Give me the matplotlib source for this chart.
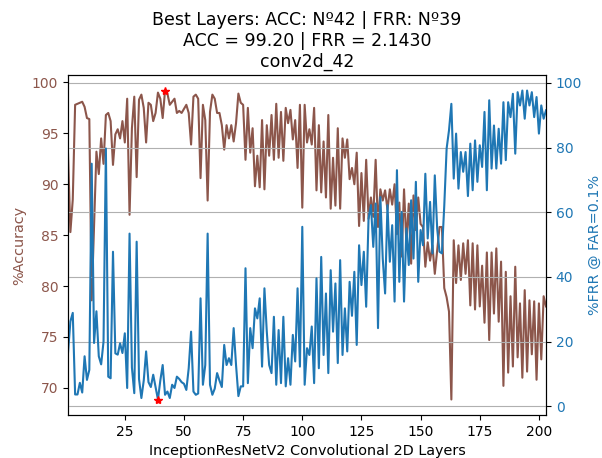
import numpy as np
import matplotlib
matplotlib.use('Agg')
import matplotlib.pyplot as plt

# accuracy (%) and FRR @ FAR=0.1% (%) per conv2d layer
acc = [93.0, 85.3, 88.5, 97.8, 97.9, 98.0, 98.1, 97.6, 96.5, 96.4,
       78.6, 86.0, 93.2, 91.0, 94.5, 92.0, 96.8, 97.0, 96.2, 91.9,
       94.9, 95.4, 94.5, 96.2, 94.1, 98.4, 87.0, 95.5, 98.6, 90.7,
       98.3, 98.8, 97.5, 94.1, 98.0, 97.8, 96.2, 97.0, 99.0, 98.4,
       96.5, 99.2, 98.9, 97.8, 98.1, 98.4, 97.0, 97.2, 97.0, 97.4,
       97.8, 97.0, 93.9, 98.6, 98.8, 98.4, 90.6, 97.8, 96.3, 88.4,
       97.1, 98.8, 98.4, 97.0, 97.0, 95.8, 93.4, 95.8, 94.5, 95.8,
       94.2, 96.0, 98.9, 98.0, 97.8, 92.4, 97.5, 93.1, 95.5, 89.8,
       92.8, 89.7, 96.3, 89.5, 95.8, 92.8, 96.8, 92.4, 97.9, 92.6,
       97.1, 92.3, 97.5, 96.0, 97.3, 94.4, 96.3, 91.6, 97.8, 87.7,
       97.8, 94.1, 95.4, 93.9, 97.5, 89.4, 95.8, 89.2, 94.2, 88.7,
       96.8, 87.6, 92.6, 87.9, 95.5, 87.6, 94.5, 92.6, 94.4, 90.5,
       91.6, 90.0, 93.1, 85.9, 91.1, 86.4, 92.4, 86.6, 88.7, 86.8,
       92.4, 85.8, 89.5, 88.4, 89.4, 87.5, 89.5, 88.0, 90.0, 85.1,
       88.2, 82.9, 89.5, 84.2, 88.1, 82.2, 88.9, 85.5, 88.7, 86.1,
       85.8, 81.9, 84.3, 82.5, 84.0, 81.2, 83.5, 85.8, 85.8, 79.8,
       78.9, 77.5, 68.86, 84.5, 80.3, 84.0, 80.6, 84.2, 81.2, 84.5,
       78.1, 84.2, 77.7, 84.0, 78.0, 82.0, 76.4, 83.3, 74.7, 83.3,
       77.3, 83.7, 76.5, 82.4, 70.2, 81.4, 71.5, 79.0, 72.1, 81.9,
       73.0, 78.3, 71.0, 79.6, 71.6, 78.6, 73.3, 78.5, 70.8, 78.3,
       72.8, 79.0, 78.0]

frr = [16.6, 26.3, 28.9, 3.7, 3.7, 7.3, 4.3, 15.5, 8.2, 11.3,
       75.0, 19.6, 29.4, 15.5, 13.0, 20.0, 79.7, 9.2, 8.7, 47.8,
       16.4, 16.0, 19.5, 16.5, 22.6, 5.7, 53.4, 12.0, 4.1, 50.9,
       8.5, 2.6, 8.0, 17.0, 7.5, 6.0, 9.8, 6.0, 2.143, 8.0,
       12.8, 3.6, 4.6, 2.6, 6.7, 5.7, 9.2, 8.5, 7.5, 7.0,
       5.1, 11.8, 23.1, 4.6, 3.6, 4.0, 33.4, 6.7, 12.8, 53.4,
       6.7, 3.6, 5.5, 10.3, 8.0, 6.0, 19.0, 12.8, 14.9, 12.8,
       24.2, 12.8, 3.2, 6.2, 6.2, 42.7, 7.2, 24.2, 18.0, 30.3,
       27.2, 33.4, 12.3, 36.5, 23.1, 12.8, 10.3, 27.7, 6.7, 23.6,
       7.2, 27.7, 6.2, 14.9, 6.7, 22.1, 13.9, 36.5, 12.3, 55.5,
       6.7, 18.0, 15.9, 24.7, 7.2, 39.6, 11.8, 46.2, 15.9, 34.9,
       10.3, 42.1, 23.1, 38.0, 13.4, 45.2, 15.9, 30.3, 17.0, 38.5,
       28.0, 41.6, 19.0, 49.8, 37.5, 47.8, 30.8, 58.1, 62.2, 49.3,
       62.7, 24.2, 64.7, 45.7, 34.9, 62.2, 44.7, 56.0, 32.4, 73.0,
       38.5, 60.1, 32.4, 55.0, 43.7, 63.7, 45.7, 69.4, 38.5, 54.5,
       49.8, 71.9, 51.9, 63.2, 47.3, 71.4, 55.0, 47.8, 47.3, 62.0,
       79.7, 85.3, 93.5, 70.4, 84.3, 67.3, 78.6, 72.5, 78.6, 65.0,
       81.2, 66.8, 82.2, 69.4, 80.7, 74.0, 91.0, 66.8, 94.6, 73.5,
       86.8, 73.5, 85.8, 75.0, 94.0, 76.1, 94.0, 89.4, 96.6, 78.1,
       97.1, 93.0, 97.6, 88.9, 97.6, 93.0, 97.1, 89.4, 95.6, 84.3,
       93.0, 88.9, 91.5]

layers = np.arange(1, len(acc) + 1)
best_acc = int(np.argmax(acc)) + 1
best_frr = int(np.argmin(frr)) + 1

fig, ax1 = plt.subplots(figsize=(6.02, 4.58), dpi=100)
fig.subplots_adjust(left=0.113, right=0.907, top=0.836, bottom=0.094)

ax1.plot(layers, acc, color='tab:brown')
ax1.plot(best_acc, acc[best_acc - 1], 'r*')
ax1.set_xlabel('InceptionResNetV2 Convolutional 2D Layers', fontsize=10.4)
ax1.set_ylabel('%Accuracy', color='tab:brown', fontsize=10.4)
ax1.tick_params(axis='y', labelcolor='tab:brown')
ax1.set_xlim(1, len(acc))

ax2 = ax1.twinx()
ax2.plot(layers, frr, color='tab:blue')
ax2.plot(best_frr, frr[best_frr - 1], 'r*')
ax2.set_ylabel('%FRR @ FAR=0.1%', color='tab:blue', fontsize=10.4)
ax2.tick_params(axis='y', labelcolor='tab:blue')
ax2.grid()

plt.title('Best Layers: ACC: Nº%d | FRR: Nº%d\nACC = %.2f | FRR = %.4f\nconv2d_%d'
          % (best_acc, best_frr, acc[best_acc - 1], frr[best_frr - 1], best_acc),
          fontsize=12.5)

plt.savefig('out.png')
